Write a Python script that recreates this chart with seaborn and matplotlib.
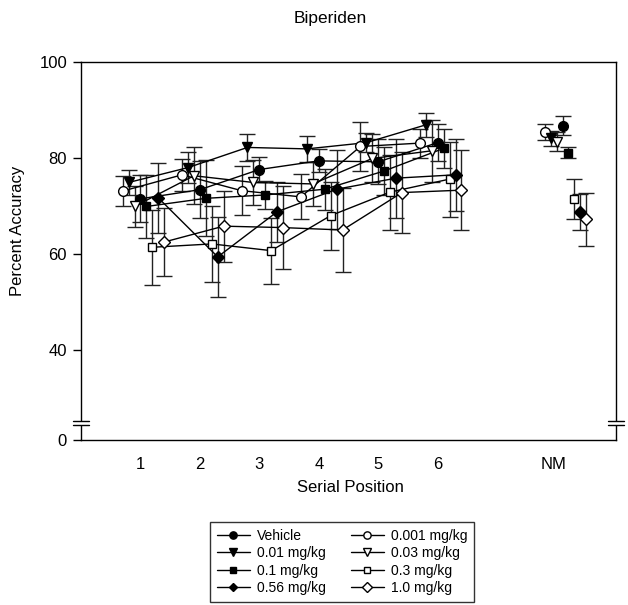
import numpy as np
import pandas as pd
import seaborn as sns
import matplotlib.pyplot as plt
from matplotlib.lines import Line2D
from matplotlib.patches import Rectangle

# x positions: serial positions 1..6 plus the NM (no-memory) condition
positions = [1, 2, 3, 4, 5, 6]
nm_pos = 8.1
tick_pos = [1, 2, 3, 4, 5, 6, 7.95]
tick_labels = ["1", "2", "3", "4", "5", "6", "NM"]

doses = ["Vehicle", "0.001 mg/kg", "0.01 mg/kg", "0.03 mg/kg",
         "0.1 mg/kg", "0.3 mg/kg", "0.56 mg/kg", "1.0 mg/kg"]

# mean percent accuracy, positions 1-6 then NM
acc_vehicle = [71.5, 73.4, 77.6, 79.4, 79.2, 83.2, 86.7]
acc_0001 = [73.1, 76.5, 73.2, 71.9, 82.4, 83.1, 85.4]
acc_001 = [74.9, 78.0, 82.2, 81.9, 83.2, 86.9, 84.1]
acc_003 = [69.9, 76.3, 74.9, 74.6, 79.9, 81.5, 83.4]
acc_01 = [69.9, 71.6, 72.3, 73.5, 77.3, 82.0, 81.1]
acc_03 = [61.4, 62.1, 60.7, 68.0, 72.9, 75.6, 71.4]
acc_056 = [71.7, 59.4, 68.8, 73.5, 75.8, 76.5, 68.8]
acc_10 = [62.5, 65.8, 65.5, 65.0, 72.8, 73.3, 67.2]

# SEM
sem_vehicle = [4.9, 6.0, 2.6, 2.4, 4.7, 3.8, 2.0]
sem_0001 = [3.1, 3.3, 5.1, 4.7, 5.2, 3.0, 1.6]
sem_001 = [2.6, 3.3, 2.9, 2.7, 2.0, 2.5, 1.5]
sem_003 = [4.2, 5.9, 4.6, 4.6, 5.0, 6.4, 2.0]
sem_01 = [6.5, 7.9, 3.0, 4.3, 5.0, 4.0, 1.2]
sem_03 = [7.8, 7.9, 6.9, 7.1, 7.8, 7.8, 4.2]
sem_056 = [7.3, 8.4, 6.3, 8.2, 8.2, 7.5, 3.8]
sem_10 = [7.0, 7.4, 8.7, 8.7, 8.4, 8.4, 5.5]

accs = [acc_vehicle, acc_0001, acc_001, acc_003, acc_01, acc_03, acc_056, acc_10]
sems = [sem_vehicle, sem_0001, sem_001, sem_003, sem_01, sem_03, sem_056, sem_10]

# horizontal nudge so symbols don't sit on top of each other
offsets = [0.0, -0.3, -0.2, -0.1, 0.1, 0.2, 0.3, 0.4]
markers = ["o", "o", "v", "v", "s", "s", "D", "D"]
filled = [True, False, True, False, True, False, True, False]
msizes = [7, 7, 7, 7, 6, 6, 6, 6.5]

# SigmaPlot-style broken axis: bottom of the axis is labelled 0
Y_BOTTOM = 21.25

sns.set_theme(style="white")
plt.rcParams["font.family"] = ["Liberation Sans", "DejaVu Sans"]
plt.rcParams["text.color"] = "black"

fig = plt.figure(figsize=(6.28, 6.05), dpi=100)
ax = fig.add_axes([81 / 628, 1 - 440 / 605, 535 / 628, 378 / 605])

rows = []
for d, a, s, off in zip(doses, accs, sems, offsets):
    for i, p in enumerate(positions):
        rows.append(dict(dose=d, x=p + off, acc=a[i], sem=s[i], nm=False))
    rows.append(dict(dose=d, x=nm_pos + off, acc=a[6], sem=s[6], nm=True))
df = pd.DataFrame(rows)

for d, m, f, ms in zip(doses, markers, filled, msizes):
    sub = df[df["dose"] == d]
    ax.errorbar(sub["x"], sub["acc"], yerr=sub["sem"], fmt="none",
                ecolor="#222222", elinewidth=1.0, capsize=5.5, capthick=1.0,
                zorder=2)
    line = sub[~sub["nm"]]
    sns.lineplot(data=line, x="x", y="acc", ax=ax, color="black",
                 linewidth=1.0, sort=True, estimator=None, zorder=3)
    ax.plot(sub["x"], sub["acc"], linestyle="none", marker=m, markersize=ms,
            markerfacecolor="black" if f else "white",
            markeredgecolor="black", markeredgewidth=1.0, zorder=4)

ax.set_xlim(0, 9)
ax.set_ylim(Y_BOTTOM, 100)
ax.set_xticks(tick_pos)
ax.set_xticklabels(tick_labels)
ax.set_yticks([Y_BOTTOM, 40, 60, 80, 100])
ax.set_yticklabels(["0", "40", "60", "80", "100"])
ax.tick_params(axis="x", length=0, pad=12, labelsize=12, colors="black")
ax.tick_params(axis="y", length=6, width=1, direction="out", left=True,
               pad=4, labelsize=12, colors="black")
ax.set_xlabel("")
ax.set_ylabel("")
for sp in ax.spines.values():
    sp.set_color("black")
    sp.set_linewidth(1.0)

# axis-break marks on both vertical spines
y_lo, y_hi = (440 - 425) / 378, (440 - 421) / 378
hw = 8 / 535
for xs in (0.0, 1.0):
    ax.add_patch(Rectangle((xs - 0.004, y_lo), 0.008, y_hi - y_lo,
                           transform=ax.transAxes, facecolor="white",
                           edgecolor="none", clip_on=False, zorder=10))
    for yy in (y_lo, y_hi):
        ax.add_line(Line2D([xs - hw, xs + hw], [yy, yy], transform=ax.transAxes,
                           color="black", linewidth=1.0, clip_on=False, zorder=11))

fig.text(330 / 628, 1 - 18 / 605, "Biperiden", ha="center", va="center",
         fontsize=12.5, color="black")
fig.text(350 / 628, 1 - 488 / 605, "Serial Position", ha="center",
         va="center", fontsize=12, color="black")
fig.text(18 / 628, 1 - 231 / 605, "Percent Accuracy", ha="center",
         va="center", rotation=90, fontsize=12, color="black")

handles = []
for d, m, f, ms in zip(doses, markers, filled, msizes):
    handles.append(Line2D([], [], color="black", linewidth=1.0, marker=m,
                          markersize=ms * 0.75,
                          markerfacecolor="black" if f else "white",
                          markeredgecolor="black", label=d))
# legend fills column-first; reorder so rows read Vehicle/0.001, 0.01/0.03 ...
order = [0, 2, 4, 6, 1, 3, 5, 7]
leg = fig.legend([handles[i] for i in order], [doses[i] for i in order],
                 ncol=2, loc="center", bbox_to_anchor=(342 / 628, 1 - 562 / 605),
                 frameon=True, fancybox=False, fontsize=10, handlelength=2.4,
                 handletextpad=0.5, columnspacing=1.8, labelspacing=0.25,
                 borderpad=0.5)
leg.get_frame().set_edgecolor("black")
leg.get_frame().set_linewidth(1.0)
for t in leg.get_texts():
    t.set_color("black")

fig.savefig("out.png", dpi=100, facecolor="white")
